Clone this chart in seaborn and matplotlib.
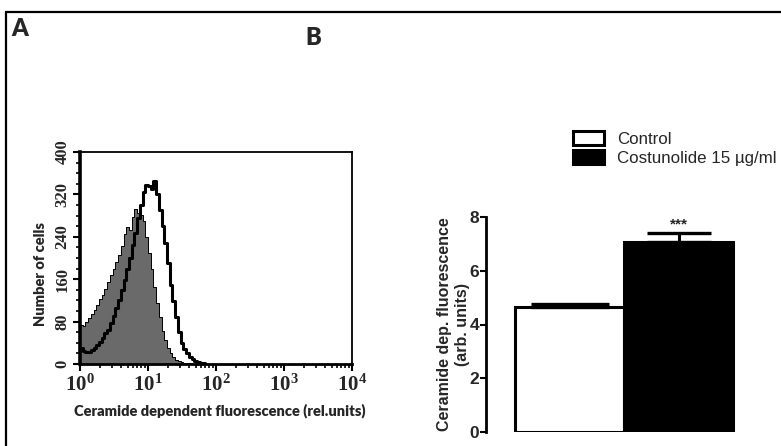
import numpy as np
import pandas as pd
import seaborn as sns
import matplotlib
matplotlib.use("Agg")
import matplotlib.pyplot as plt
from matplotlib.lines import Line2D
from matplotlib.patches import Patch
from matplotlib.ticker import FixedLocator, MultipleLocator

# ---------------- Panel A data (flow cytometry histogram) ----------------
# counts per 0.04-decade channel, starting at 10^0
channel_width_decades = 0.04
control_counts = [74, 72, 80, 86, 95, 102, 112, 122, 130, 142, 155, 168, 180,
                  192, 205, 222, 245, 258, 252, 278, 292, 285, 282, 270, 240,
                  210, 180, 145, 115, 88, 62, 45, 30, 20, 13, 8, 5, 3, 2, 1,
                  1, 0, 0, 0, 0, 0]
costunolide_counts = [30, 24, 22, 23, 26, 30, 35, 42, 50, 58, 65, 78, 90, 105,
                      120, 140, 158, 180, 200, 225, 248, 275, 300, 325, 338,
                      335, 330, 345, 320, 290, 260, 228, 190, 150, 118, 88, 60,
                      40, 28, 20, 14, 9, 5, 3, 2, 1]
yticks_A = [0, 80, 160, 240, 320, 400]
xtick_decades_A = [0, 1, 2, 3, 4]
xtick_labels_A = [r"$\mathbf{10^{0}}$", r"$\mathbf{10^{1}}$", r"$\mathbf{10^{2}}$",
                  r"$\mathbf{10^{3}}$", r"$\mathbf{10^{4}}$"]
xlabel_A = "Ceramide dependent fluorescence (rel.units)"
ylabel_A = "Number of cells"

# ---------------- Panel B data (bar chart) ----------------
groups = ["Control", "Costunolide 15 µg/ml"]
means = [4.65, 7.06]
sems = [0.10, 0.35]
significance = "***"
yticks_B = [0, 2, 4, 6, 8]
ylabel_B = "Ceramide dep. fluorescence\n(arb. units)"

# ---------------- Figure ----------------
sns.set_style("white")
plt.rcParams["font.family"] = ["Liberation Sans", "DejaVu Sans"]
plt.rcParams["mathtext.fontset"] = "custom"
plt.rcParams["mathtext.rm"] = "Liberation Serif:bold"
plt.rcParams["mathtext.bf"] = "Liberation Serif:bold"
plt.rcParams["mathtext.it"] = "Liberation Serif:bold"

W, H = 781, 446
fig = plt.figure(figsize=(W / 100, H / 100), dpi=100)

def px_axes(l, t, r, b):
    return fig.add_axes([l / W, 1 - b / H, (r - l) / W, (b - t) / H])

# frame lines
fig.add_artist(Line2D([6 / W, 1.0], [1 - 12 / H, 1 - 12 / H], color="black", lw=1.6,
                      transform=fig.transFigure))
fig.add_artist(Line2D([6 / W, 6 / W], [0, 1 - 12 / H], color="black", lw=1.6,
                      transform=fig.transFigure))
fig.text(20 / W, 1 - 29 / H, "A", fontsize=17, fontweight="heavy", family="Lato",
         ha="center", va="center")
fig.text(313 / W, 1 - 38 / H, "B", fontsize=17, fontweight="heavy", family="Lato",
         ha="center", va="center")

# ---------------- Panel A ----------------
axA = px_axes(80, 152, 352, 364)
n = len(control_counts)
centers = (np.arange(n) + 0.5) * channel_width_decades
dfA = pd.DataFrame({"log_fluor": np.concatenate([centers, centers]),
                    "count": control_counts + costunolide_counts,
                    "group": ["Control"] * n + ["Costunolide"] * n})
brange = (0, n * channel_width_decades)
sns.histplot(data=dfA[dfA.group == "Control"], x="log_fluor", weights="count",
             binwidth=channel_width_decades, binrange=brange,
             element="step", fill=True, color="#6a6a6a",
             edgecolor="black", linewidth=0.7, alpha=1.0, ax=axA)
sns.histplot(data=dfA[dfA.group == "Costunolide"], x="log_fluor", weights="count",
             binwidth=channel_width_decades, binrange=brange,
             element="step", fill=False, color="black",
             linewidth=2.2, ax=axA)
axA.set_xlim(0, 4)
axA.set_ylim(0, 400)
axA.set_xticks(xtick_decades_A)
axA.set_xticklabels(xtick_labels_A, fontsize=15)
minor = [d + np.log10(k) for d in range(4) for k in range(2, 10)]
axA.xaxis.set_minor_locator(FixedLocator(minor))
axA.set_yticks(yticks_A)
axA.set_yticklabels([str(v) for v in yticks_A], fontsize=12, fontweight="bold",
                    family="Liberation Serif", rotation=90, va="center")
axA.yaxis.set_minor_locator(MultipleLocator(20))
axA.tick_params(axis="both", which="major", direction="out", length=5, width=1.5,
                color="black", pad=2, bottom=True, left=True)
axA.tick_params(axis="both", which="minor", direction="out", length=3, width=1.2,
                color="black", bottom=True, left=True)
for s, lw in zip(["left", "bottom", "top", "right"], [2.6, 2.0, 1.3, 1.3]):
    axA.spines[s].set_visible(True)
    axA.spines[s].set_color("black")
    axA.spines[s].set_linewidth(lw)
axA.set_xlabel(xlabel_A, fontsize=10.5, fontweight="heavy", family="Lato")
axA.set_ylabel(ylabel_A, fontsize=10.5, fontweight="heavy", family="Lato")
axA.xaxis.set_label_coords(0.515, -0.185)
axA.yaxis.set_label_coords(-0.12, 0.425)

# ---------------- Panel B ----------------
axB = px_axes(486, 217, 781, 432)
sns.barplot(x=groups, y=means, hue=groups, palette=["white", "black"],
            edgecolor="black", linewidth=2.2, width=1.0, errorbar=None,
            legend=False, ax=axB)
for i, (m, e, cap) in enumerate(zip(means, sems, [28, 23])):
    axB.errorbar([i], [m], yerr=[[0], [e]], fmt="none", ecolor="black",
                 elinewidth=2.2, capsize=cap, capthick=2.4, zorder=1)
axB.text(1, means[1] + sems[1] + 0.05, significance, ha="center", va="bottom",
         fontsize=11, fontweight="bold")
axB.set_xlim(-0.766, 1.94)
axB.set_ylim(0, 8)
axB.set_yticks(yticks_B)
axB.set_yticklabels([str(v) for v in yticks_B], fontsize=12.5, fontweight="bold")
axB.set_xticks([])
axB.tick_params(axis="y", direction="out", length=4, width=1.5, color="black",
                pad=1, left=True)
for s in ["top", "right", "bottom"]:
    axB.spines[s].set_visible(False)
axB.spines["left"].set_color("black")
axB.spines["left"].set_linewidth(2.0)
axB.set_ylabel(ylabel_B, fontsize=11.5, fontweight="bold", linespacing=1.25)
axB.yaxis.set_label_coords(-0.055, 0.5)
axB.set_xlabel("")

handles = [Patch(facecolor="white", edgecolor="black", linewidth=2.2),
           Patch(facecolor="black", edgecolor="black", linewidth=2.2)]
fig.legend(handles, groups, loc="upper left", bbox_to_anchor=(573 / W, 1 - 131 / H),
           frameon=False, fontsize=12.2, handlelength=1.8, handleheight=0.9,
           handletextpad=0.8, labelspacing=0.2, borderpad=0, borderaxespad=0)

fig.savefig("out.png", dpi=100)
